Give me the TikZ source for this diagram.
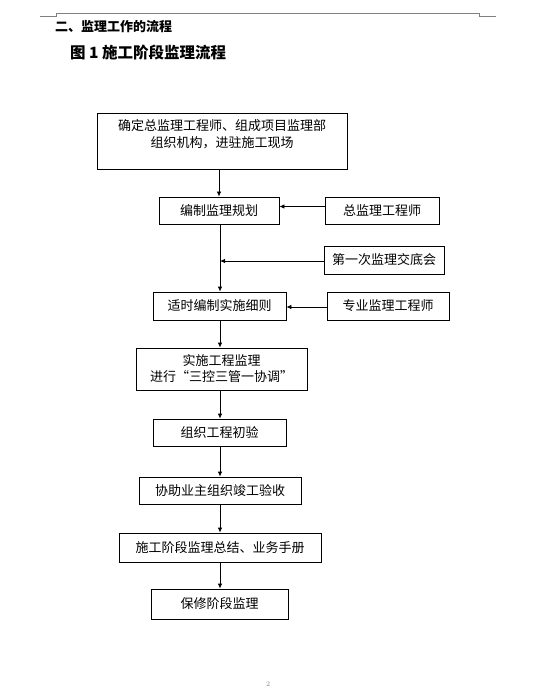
\documentclass[tikz,border=0pt]{standalone}
\usepackage{fontspec}
\newfontfamily\cjk{Noto Sans CJK SC}
\usetikzlibrary{arrows.meta}
\begin{document}
\begin{tikzpicture}[x=1pt,y=-1pt,
  box/.style={draw, line width=0.8pt, inner sep=0pt, align=center,
    font=\cjk\fontsize{13}{16}\selectfont},
  arr/.style={draw, line width=0.8pt, -{Latex[length=5pt,width=4.5pt]}},
  hdr/.style={draw=gray, line width=0.8pt},
  txt/.style={inner sep=0pt, align=center, font=\cjk\fontsize{13}{17.5}\selectfont}]
\useasboundingbox (0,0) rectangle (532,692);
% page header rule
\draw[hdr] (40,16) -- (56,16) -- (56,13) -- (479,13) -- (479,16) -- (496,16);
% headings
\node[anchor=west, inner sep=0pt, font=\cjk\bfseries\fontsize{13}{15}\selectfont] (h1) at (55,27) {二、监理工作的流程};
\node[anchor=west, inner sep=0pt, font=\cjk\bfseries\fontsize{15.5}{18}\selectfont] (h2) at (70,53) {图 1 施工阶段监理流程};
% boxes
\node[box, minimum width=250pt, minimum height=56pt] (b1) at (222,141) {};
\node[txt] (b1t) at (222,134) {确定总监理工程师、组成项目监理部\\组织机构，进驻施工现场};
\node[box, minimum width=120pt, minimum height=27pt] (b2) at (219,210.5) {编制监理规划};
\node[box, minimum width=114pt, minimum height=27pt] (z) at (382,210.5) {总监理工程师};
\node[box, minimum width=120pt, minimum height=28pt] (m) at (384,260) {第一次监理交底会};
\node[box, minimum width=133pt, minimum height=28pt] (b3) at (219.5,306) {适时编制实施细则};
\node[box, minimum width=122pt, minimum height=28pt] (s) at (388,306) {专业监理工程师};
\node[box, minimum width=171pt, minimum height=42pt, font=\cjk\fontsize{13}{16}\selectfont] (b4) at (221.5,369) {实施工程监理\\进行“三控三管一协调”};
\node[box, minimum width=133pt, minimum height=27pt] (b5) at (219.5,432.5) {组织工程初验};
\node[box, minimum width=162pt, minimum height=27pt] (b6) at (220,490.5) {协助业主组织竣工验收};
\node[box, minimum width=202pt, minimum height=29pt] (b7) at (220,547.5) {施工阶段监理总结、业务手册};
\node[box, minimum width=137pt, minimum height=30pt] (b8) at (219.5,604) {保修阶段监理};
% page number
\node[inner sep=0pt, font=\fontsize{7}{8}\selectfont, text=gray] (pg) at (268,684) {2};
% column coordinates
\coordinate (c0) at (219,0);
\coordinate (c) at (220,0);
\coordinate (mj) at (220,261);
% vertical flow
\draw[arr] (b1.south -| c0) -- (b2.north -| c0);
\draw[arr] (b2.south -| c) -- (b3.north -| c);
\draw[arr] (b3.south -| c) -- (b4.north -| c);
\draw[arr] (b4.south -| c) -- (b5.north -| c);
\draw[arr] (b5.south -| c) -- (b6.north -| c);
\draw[arr] (b6.south -| c) -- (b7.north -| c);
\draw[arr] (b7.south -| c) -- (b8.north -| c);
% side inputs
\draw[arr] ([yshift=4pt]z.west) -- ([yshift=4pt]z.west -| b2.east);
\draw[arr] ([yshift=-1pt]m.west) -- (mj);
\draw[arr] ([yshift=-1pt]s.west) -- ([yshift=-1pt]s.west -| b3.east);
\end{tikzpicture}
\end{document}
